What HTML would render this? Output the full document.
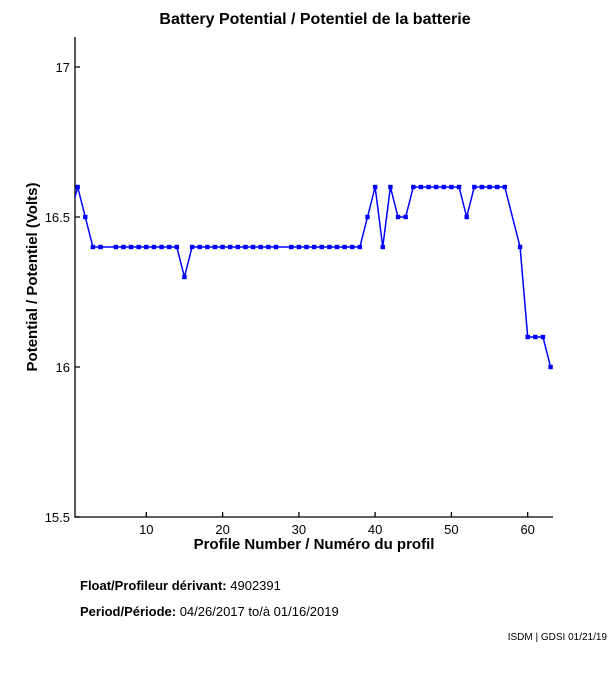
<!DOCTYPE html>
<html><head><meta charset="utf-8"><style>
html,body{margin:0;padding:0;background:#fff;}
svg{display:block;font-family:"Liberation Sans",sans-serif;}
</style></head><body>
<svg width="611" height="675" viewBox="0 0 611 675" xmlns="http://www.w3.org/2000/svg">
<defs>
<clipPath id="c"><rect x="75" y="37" width="478" height="480"/></clipPath>
<marker id="m" markerUnits="userSpaceOnUse" markerWidth="6" markerHeight="6" refX="3" refY="3"><rect x="0.8" y="0.8" width="4.4" height="4.4" fill="#00f"/></marker>
</defs>
<text x="315" y="24" text-anchor="middle" font-size="16" font-weight="bold">Battery Potential / Potentiel de la batterie</text>
<g stroke="#000" stroke-width="1.3" fill="none">
<path d="M75,37 V517 H553"/>
<path d="M75,67 h5 M75,217 h5 M75,367 h5 M75,517 h5"/>
<path d="M146.3,517 v-5 M222.6,517 v-5 M298.9,517 v-5 M375.1,517 v-5 M451.4,517 v-5 M527.7,517 v-5"/>
</g>
<g font-size="13" text-anchor="end">
<text x="70" y="72">17</text><text x="70" y="222">16.5</text><text x="70" y="372">16</text><text x="70" y="522">15.5</text>
</g>
<g font-size="13" text-anchor="middle">
<text x="146.3" y="534">10</text><text x="222.6" y="534">20</text><text x="298.9" y="534">30</text><text x="375.1" y="534">40</text><text x="451.4" y="534">50</text><text x="527.7" y="534">60</text>
</g>
<text x="314" y="549" text-anchor="middle" font-size="15" font-weight="bold">Profile Number / Numéro du profil</text>
<text transform="translate(37,277) rotate(-90)" text-anchor="middle" font-size="15" font-weight="bold">Potential / Potentiel (Volts)</text>
<polyline clip-path="url(#c)" fill="none" stroke="#00f" stroke-width="1.5" marker-start="url(#m)" marker-mid="url(#m)" marker-end="url(#m)" points="70,217 77.65,187 85.28,217 92.9,247 100.53,247 115.79,247 123.42,247 131.04,247 138.67,247 146.3,247 153.93,247 161.56,247 169.18,247 176.81,247 184.44,277 192.07,247 199.7,247 207.32,247 214.95,247 222.58,247 230.21,247 237.84,247 245.46,247 253.09,247 260.72,247 268.35,247 275.98,247 291.23,247 298.86,247 306.49,247 314.12,247 321.74,247 329.37,247 337,247 344.63,247 352.26,247 359.88,247 367.51,217 375.14,187 382.77,247 390.4,187 398.02,217 405.65,217 413.28,187 420.91,187 428.54,187 436.16,187 443.79,187 451.42,187 459.05,187 466.68,217 474.3,187 481.93,187 489.56,187 497.19,187 504.82,187 520.07,247 527.7,337 535.33,337 542.96,337 550.58,367"/>
<text x="80" y="590" font-size="13"><tspan font-weight="bold">Float/Profileur dérivant:</tspan> 4902391</text>
<text x="80" y="616" font-size="13"><tspan font-weight="bold">Period/Période:</tspan> 04/26/2017  to/à  01/16/2019</text>
<text x="607" y="640" text-anchor="end" font-size="10">ISDM | GDSI 01/21/19</text>
</svg>
</body></html>
